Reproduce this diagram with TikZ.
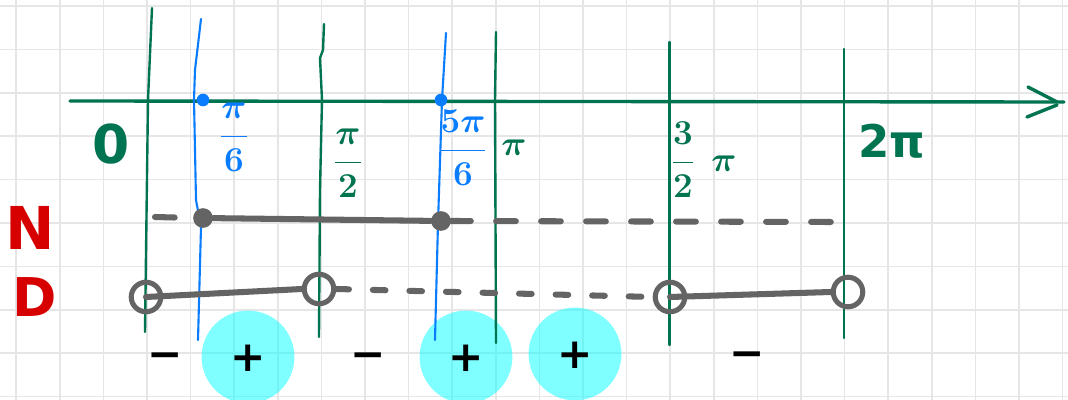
\documentclass[tikz,border=0pt]{standalone}
\usepackage{fontspec}
\newfontfamily\handfont{DejaVu Sans}
\definecolor{pengreen}{RGB}{0,115,80}
\definecolor{penblue}{RGB}{10,125,255}
\definecolor{penred}{RGB}{215,0,0}
\definecolor{pengray}{RGB}{100,100,100}
\definecolor{gridgray}{RGB}{230,230,230}
\definecolor{hilite}{RGB}{0,255,255}
\begin{document}
\begin{tikzpicture}[x=0.025cm, y=-0.025cm,
    gridline/.style={draw=gridgray, line width=1.2pt},
    axisline/.style={draw=pengreen, line width=2.4pt, line cap=round},
    greenmark/.style={draw=pengreen, line width=1.7pt, line cap=round, line join=round},
    bluemark/.style={draw=penblue, line width=1.5pt, line cap=round, line join=round},
    bluedot/.style={circle, fill=penblue, minimum size=9pt, inner sep=0pt},
    fulldot/.style={circle, fill=pengray, minimum size=14pt, inner sep=0pt},
    opendot/.style={circle, draw=pengray, line width=3.6pt, minimum size=21pt, inner sep=0pt},
    solidbar/.style={draw=pengray, line width=4.3pt, line cap=round},
    ndash/.style={solidbar, dash pattern=on 14pt off 18pt},
    ddash/.style={solidbar, dash pattern=on 9pt off 17pt},
    fraclabel/.style={font=\fontsize{24}{28}\selectfont\boldmath, inner sep=0pt},
    biglabel/.style={font=\handfont\bfseries\fontsize{#1}{#1}\selectfont, inner sep=0pt},
    sign/.style={font=\handfont\bfseries\fontsize{30}{30}\selectfont, text height=21pt, text depth=0pt, inner sep=0pt},
    plusblob/.style={sign, circle, fill=hilite, fill opacity=0.5, text opacity=1, minimum size=66pt}]
  \fill[white] (0,0) rectangle (1068,400);
  \useasboundingbox (0,0) rectangle (1068,400);
  \foreach \gx in {0,...,24} \draw[gridline] ({16.2+43.6*\gx},0) -- ({16.2+43.6*\gx},400);
  \foreach \gy in {0,...,9} \draw[gridline] (0,{6+43.4*\gy}) -- (1068,{6+43.4*\gy});
  \node[plusblob] (plusa) at (248,357) {+};
  \node[plusblob] (plusb) at (466,357) {+};
  \node[plusblob] (plusc) at (575,354) {+};
  \node[sign] (minusa) at (165,354) {−};
  \node[sign] (minusb) at (368,354) {−};
  \node[sign] (minusc) at (747,353) {−};
  \coordinate (axstart) at (70,101);
  \coordinate (axend) at (1064,102);
  \draw[axisline] (axstart) -- (axend);
  \draw[axisline] (1028,87) -- (1057,102);
  \draw[axisline] (1027,117) -- (1057,105);
  \draw[greenmark] (152,8) -- (148,100) -- (145,332);
  \draw[bluemark] (201,19) -- (195,70) -- (194,100) -- (196,200) -- (201,227) -- (198,340);
  \draw[greenmark] (324,24) -- (323,50) -- (320,58) -- (322,100) -- (320,190) -- (319,337);
  \draw[bluemark] (446,33) -- (442,100) -- (438,223) -- (435,340);
  \draw[greenmark] (496,32) -- (495,100) -- (496,343);
  \draw[greenmark] (669.5,42) -- (669.5,345);
  \draw[greenmark] (844,49) -- (844,338);
  \node[bluedot] (da) at (203,100) {};
  \node[bluedot] (db) at (441,100) {};
  \node[biglabel=38, text=pengreen] (zero) at (111,144) {0};
  \node[fraclabel, text=penblue] (pisixth) at (234,137) {$\displaystyle\frac{\pi}{6}$};
  \node[fraclabel, text=pengreen] (pihalf) at (348,163) {$\displaystyle\frac{\pi}{2}$};
  \node[fraclabel, text=penblue] (fivepisixth) at (463,148) {$\displaystyle\frac{5\pi}{6}$};
  \node[fraclabel, text=pengreen] (pilabel) at (514,148) {$\pi$};
  \node[fraclabel, text=pengreen] (threehalfpi) at (704,160) {$\displaystyle\frac{3}{2}\hspace{0.5em}\pi$};
  \node[biglabel=32, text=pengreen] (twopi) at (892,141) {2π};
  \node[biglabel=42, text=penred] (rowN) at (30,228) {N};
  \node[biglabel=38, text=penred] (rowD) at (35,297) {D};
  \coordinate (nstart) at (155,217);
  \coordinate (nend) at (833,222);
  \node[fulldot] (na) at (203,218) {};
  \node[fulldot] (nb) at (441,221) {};
  \draw[ndash] (nstart) -- (na.west);
  \draw[solidbar] (na) -- (nb);
  \draw[ndash] (nb.east) -- (nend);
  \node[opendot] (ca) at (146,297) {};
  \node[opendot] (cb) at (319,289) {};
  \node[opendot] (cc) at (670,297) {};
  \node[opendot] (cd) at (848,292) {};
  \draw[solidbar] (ca.center) -- (cb.west);
  \draw[ddash] (cb.east) -- (cc.west);
  \draw[solidbar] (cc.center) -- (cd.west);
\end{tikzpicture}
\end{document}
